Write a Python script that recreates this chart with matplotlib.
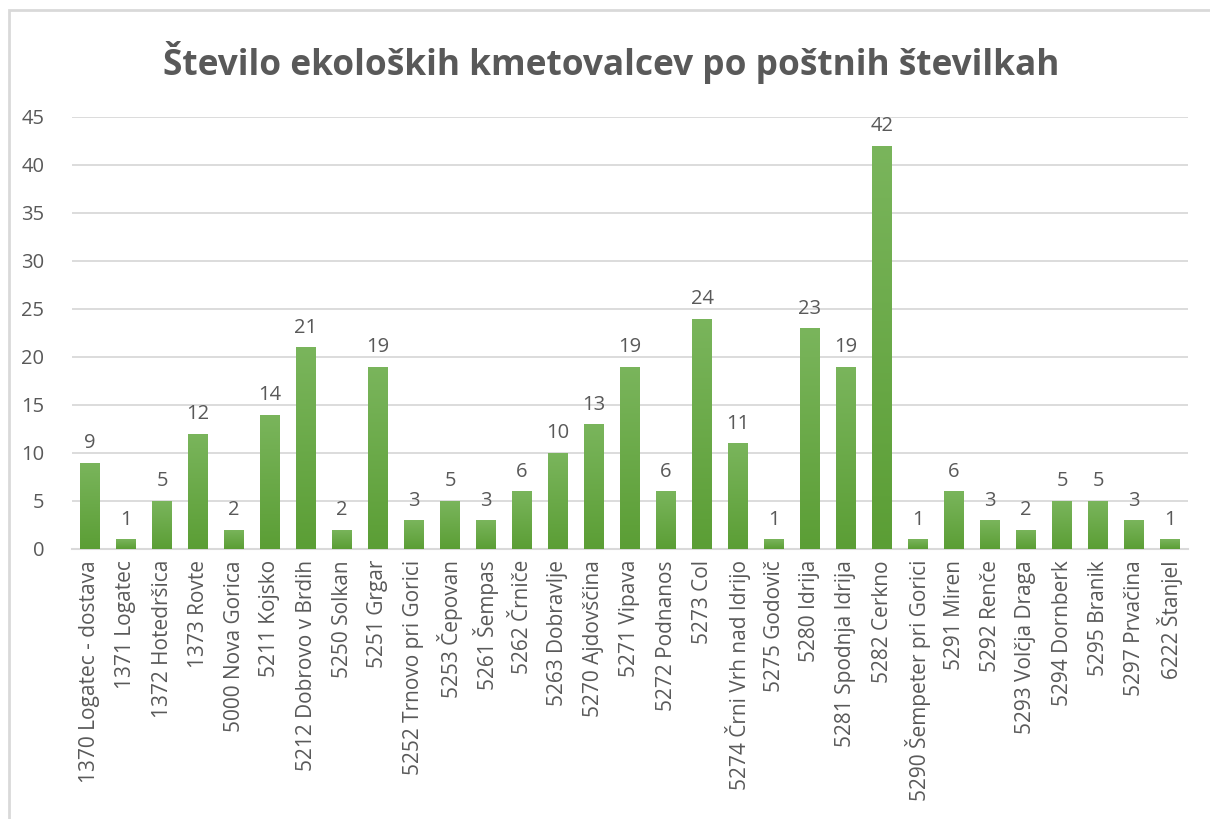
import matplotlib
matplotlib.use("Agg")
import matplotlib.pyplot as plt
import numpy as np
from matplotlib.colors import LinearSegmentedColormap
from matplotlib.patches import Rectangle

categories = ["1370 Logatec - dostava", "1371 Logatec", "1372 Hotedršica", "1373 Rovte",
              "5000 Nova Gorica", "5211 Kojsko", "5212 Dobrovo v Brdih", "5250 Solkan",
              "5251 Grgar", "5252 Trnovo pri Gorici", "5253 Čepovan", "5261 Šempas",
              "5262 Črniče", "5263 Dobravlje", "5270 Ajdovščina", "5271 Vipava",
              "5272 Podnanos", "5273 Col", "5274 Črni Vrh nad Idrijo", "5275 Godovič",
              "5280 Idrija", "5281 Spodnja Idrija", "5282 Cerkno", "5290 Šempeter pri Gorici",
              "5291 Miren", "5292 Renče", "5293 Volčja Draga", "5294 Dornberk",
              "5295 Branik", "5297 Prvačina", "6222 Štanjel"]
values = [9, 1, 5, 12, 2, 14, 21, 2, 19, 3, 5, 3, 6, 10, 13, 19, 6, 24, 11, 1,
          23, 19, 42, 1, 6, 3, 2, 5, 5, 3, 1]
yticks = [0, 5, 10, 15, 20, 25, 30, 35, 40, 45]
title = "Število ekoloških kmetovalcev po poštnih številkah"

plt.rcParams['font.family'] = ['Open Sans', 'DejaVu Sans']
txt = "#595959"

W, H = 1210, 819
fig = plt.figure(figsize=(W / 100, H / 100), dpi=100)

# chart border (partially visible)
fig.add_artist(Rectangle((8.5 / W, -0.1), 1.2, 1 - 10.5 / H + 0.1, transform=fig.transFigure,
                         fill=False, edgecolor="#d9d9d9", linewidth=2))

n = len(categories)
left, right = 72, 1188
bottom, top = 549, 117
ax = fig.add_axes([left / W, 1 - bottom / H, (right - left) / W, (bottom - top) / H])
x = np.arange(n)
bars = ax.bar(x, values, width=0.55, color="#6aab47", zorder=3)

cmap = LinearSegmentedColormap.from_list("g", ["#5b9e35", "#7ab55c"])
grad = np.linspace(0, 1, 256).reshape(-1, 1)
for b in bars:
    bx, by = b.get_x(), b.get_y()
    bw, bh = b.get_width(), b.get_height()
    im = ax.imshow(grad, cmap=cmap, extent=[bx, bx + bw, by, by + bh], origin="lower",
                   aspect="auto", zorder=4, interpolation="bilinear")
    im.set_clip_path(b)

for xi, v in zip(x, values):
    ax.text(xi, v + 1.0, str(v), ha="center", va="bottom", fontsize=14.5, color=txt)

ax.set_xlim(-0.5, n - 0.5)
ax.set_ylim(0, 45)
ax.set_yticks(yticks)
ax.set_yticklabels([str(t) for t in yticks], fontsize=14.5, color=txt)
ax.set_xticks(x)
ax.set_xticklabels(categories, rotation=90, fontsize=15, color=txt)
ax.tick_params(axis="both", length=0)
ax.tick_params(axis="y", pad=20)
ax.tick_params(axis="x", pad=8)
ax.grid(axis="y", color="#d9d9d9", linewidth=1.3, zorder=0)
for s in ["top", "right", "left"]:
    ax.spines[s].set_visible(False)
ax.spines["bottom"].set_color("#d9d9d9")
ax.spines["bottom"].set_linewidth(1.5)

fig.text(611 / W, 1 - 62 / H, title, ha="center", va="center", fontsize=25.4,
         fontweight="bold", color=txt)

fig.savefig("out.png", dpi=100)
